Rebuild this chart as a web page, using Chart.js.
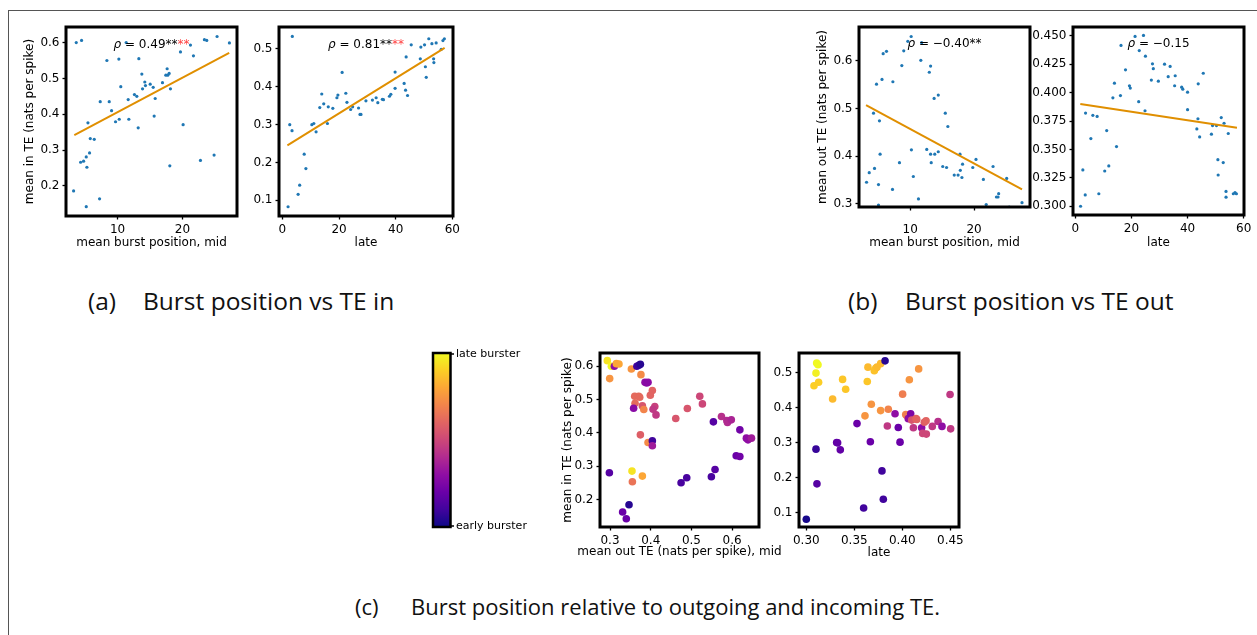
<!DOCTYPE html>
<html><head><meta charset="utf-8">
<script src="https://cdn.jsdelivr.net/npm/chart.js@4/dist/chart.umd.min.js"></script>
<style>
html,body{margin:0;padding:0;background:#fff;}
body{width:1257px;height:635px;position:relative;overflow:hidden;}
#frame{position:absolute;left:8px;top:10px;width:1300px;height:700px;border-top:1.5px solid #555;border-left:1.5px solid #555;}
canvas{position:absolute;}
.cap{position:absolute;font-family:"Open Sans","Noto Sans",sans-serif;color:#111;white-space:pre;}
.ab{font-size:24.5px;line-height:25px;}
.c{font-size:22px;line-height:23px;}
</style></head><body>
<div id="frame"></div>
<div class="cap ab" style="left:88px;top:288px">(a)</div>
<div class="cap ab" style="left:143px;top:288px">Burst position vs TE in</div>
<div class="cap ab" style="left:848px;top:288px">(b)</div>
<div class="cap ab" style="left:905px;top:288px">Burst position vs TE out</div>
<div class="cap c" style="left:355px;top:595px">(c)</div>
<div class="cap c" style="left:411px;top:595px">Burst position relative to outgoing and incoming TE.</div>
<script>
// ---------- DATA ----------
// (a) burst position vs incoming TE
const midPosIn  = [3.64,4.46,3.23,5.18,7.23,4.31,4.77,5.18,5.28,5.69,5.44,5.8,6.41,7.33,8.36,8.72,9.08,9.69,10.26,10.2,10.5,11.33,11.64,11.74,12.6,12.97,13.18,13.28,13.74,13.85,14.2,14.3,15.03,15.49,15.8,15.64,16.92,17.44,17.64,17.74,17.95,18.15,18.05,19.69,20.1,21.23,21.69,22.77,23.38,23.74,24.87,25.33,27.23];
const midTEin   = [0.600,0.606,0.186,0.142,0.164,0.266,0.269,0.281,0.252,0.292,0.376,0.332,0.330,0.435,0.550,0.435,0.410,0.379,0.386,0.554,0.477,0.600,0.441,0.386,0.455,0.450,0.362,0.555,0.512,0.471,0.490,0.480,0.484,0.475,0.444,0.395,0.488,0.509,0.527,0.509,0.514,0.471,0.256,0.574,0.371,0.593,0.563,0.271,0.608,0.606,0.286,0.617,0.599];
const latePosIn = [2.0,2.6,3.4,3.5,5.55,6.1,7.7,8.3,10.4,11.1,11.9,13.2,13.9,14.6,15.9,16.2,17.8,19.25,19.6,21.1,22.4,22.8,24.1,24.8,26.9,27.4,27.75,29.5,31.8,33.1,33.7,35.3,35.7,37.8,38.3,39.8,39.8,43.0,43.5,43.7,44.2,45.5,48.7,48.9,50.2,50.5,50.8,51.7,52.8,53.4,53.5,54.3,56.1,56.7,57.2];
const lateTEin  = [0.083,0.300,0.284,0.533,0.116,0.140,0.222,0.184,0.300,0.303,0.281,0.345,0.381,0.355,0.303,0.347,0.343,0.371,0.378,0.438,0.383,0.359,0.340,0.347,0.344,0.327,0.327,0.363,0.365,0.371,0.358,0.367,0.366,0.375,0.380,0.439,0.396,0.409,0.391,0.479,0.377,0.511,0.474,0.505,0.511,0.453,0.425,0.527,0.514,0.474,0.464,0.516,0.499,0.522,0.527];
// (b) burst position vs outgoing TE
const midPosOut  = [3.18,3.6,4.27,4.43,4.74,5.05,5.05,5.2,5.3,5.6,5.78,6.3,7.24,7.3,8.33,8.7,9.0,9.64,10.16,10.2,10.5,11.3,11.67,11.8,12.6,13.0,13.2,13.2,13.3,13.75,13.85,14.4,14.4,15.1,15.5,15.7,15.9,16.9,17.5,17.8,17.85,18.1,18.2,19.8,20.3,21.46,21.9,22.97,23.5,23.75,23.85,25.1,25.5,27.5];
const midTEout   = [0.345,0.365,0.490,0.374,0.551,0.340,0.297,0.474,0.404,0.561,0.615,0.620,0.330,0.556,0.386,0.590,0.621,0.641,0.651,0.413,0.357,0.310,0.601,0.638,0.414,0.576,0.589,0.404,0.386,0.521,0.404,0.528,0.409,0.378,0.490,0.376,0.462,0.360,0.360,0.404,0.370,0.355,0.383,0.376,0.393,0.351,0.298,0.378,0.314,0.314,0.321,0.353,0.293,0.302];
const latePosOut = [1.9,2.7,3.55,3.67,5.56,6.27,7.8,8.4,10.5,11.2,11.95,13.4,13.96,14.7,16.1,16.3,17.9,19.3,19.6,21.3,22.6,22.8,24.3,24.85,25.0,27.1,27.5,27.8,29.6,31.8,33.1,33.8,35.4,35.6,37.9,38.3,40.0,40.0,43.3,43.7,43.8,44.3,45.6,48.5,48.9,50.3,50.8,50.9,52.0,52.7,53.0,53.7,53.7,54.5,56.3,56.9,57.4];
const lateTEout  = [0.300,0.332,0.310,0.382,0.3595,0.380,0.379,0.311,0.331,0.3666,0.3355,0.3954,0.4083,0.3525,0.3974,0.4415,0.420,0.406,0.404,0.4494,0.392,0.437,0.4503,0.384,0.432,0.411,0.4253,0.421,0.410,0.425,0.414,0.423,0.406,0.4148,0.4048,0.403,0.4004,0.385,0.368,0.377,0.4077,0.361,0.417,0.3634,0.371,0.371,0.341,0.3275,0.378,0.3384,0.373,0.313,0.308,0.364,0.311,0.312,0.311];
// regression lines (end points)
const fitMidInX  = [3.34, 27.2],  fitMidInY  = [0.342, 0.571];
const fitLateInX = [1.77, 57.3],  fitLateInY = [0.245, 0.503];
const fitMidOutX = [3.1, 27.5],   fitMidOutY = [0.507, 0.330];
const fitLateOutX= [1.8, 57.6],   fitLateOutY= [0.390, 0.369];
// (c) out TE vs in TE, coloured by burst position (0 = early, 1 = late)
const cMidOut = [0.2934,0.3033,0.3107,0.3156,0.322,0.2992,0.3525,0.366,0.371,0.3746,0.376,0.386,0.3934,0.39,0.404,0.399,0.3607,0.3705,0.373,0.3615,0.358,0.3795,0.383,0.41,0.4057,0.413,0.49,0.4615,0.5205,0.527,0.554,0.5738,0.587,0.5885,0.598,0.619,0.635,0.639,0.6475,0.3746,0.3934,0.404,0.404,0.61,0.619,0.2984,0.354,0.3795,0.355,0.558,0.549,0.4885,0.4746,0.3467,0.331,0.34];
const cMidIn  = [0.617,0.600,0.600,0.608,0.607,0.563,0.592,0.600,0.603,0.606,0.575,0.552,0.552,0.550,0.527,0.513,0.510,0.510,0.507,0.489,0.474,0.481,0.470,0.479,0.471,0.454,0.473,0.443,0.510,0.487,0.433,0.449,0.437,0.431,0.439,0.409,0.384,0.379,0.384,0.394,0.371,0.376,0.361,0.331,0.329,0.280,0.285,0.270,0.253,0.290,0.268,0.265,0.250,0.184,0.162,0.142];
const cMidPos = [0.95,1.0,0.3,0.8,0.8,0.75,0.75,0.1,0.08,0.05,0.72,0.3,0.3,0.28,0.6,0.6,0.62,0.62,0.62,0.62,0.28,0.55,0.7,0.48,0.45,0.45,0.55,0.55,0.5,0.5,0.15,0.42,0.4,0.4,0.38,0.22,0.3,0.3,0.35,0.58,0.72,0.1,0.35,0.2,0.22,0.15,0.95,0.8,0.65,0.15,0.12,0.12,0.12,0.05,0.2,0.2];
const cLateOut = [0.300,0.3101,0.3111,0.308,0.3101,0.3108,0.3122,0.3128,0.3274,0.3378,0.341,0.3316,0.3326,0.3354,0.3528,0.3597,0.3611,0.3635,0.3642,0.3667,0.3677,0.3708,0.3722,0.3736,0.3774,0.3774,0.3788,0.3802,0.382,0.3844,0.3854,0.3924,0.3958,0.3976,0.4003,0.4035,0.4045,0.4062,0.4073,0.4087,0.4097,0.4115,0.4142,0.415,0.417,0.4201,0.4212,0.4229,0.4247,0.425,0.4312,0.4372,0.4413,0.4497,0.4503];
const cLateIn  = [0.082,0.282,0.183,0.463,0.499,0.528,0.523,0.473,0.425,0.481,0.453,0.301,0.300,0.280,0.355,0.114,0.377,0.475,0.516,0.303,0.410,0.506,0.513,0.516,0.526,0.392,0.220,0.139,0.534,0.348,0.396,0.383,0.344,0.302,0.439,0.381,0.378,0.369,0.480,0.383,0.365,0.343,0.369,0.367,0.511,0.343,0.327,0.359,0.363,0.325,0.347,0.361,0.347,0.438,0.340];
const cLatePos = [0.02,0.08,0.15,0.9,0.98,1.0,1.0,0.9,0.85,0.88,0.88,0.18,0.18,0.18,0.2,0.1,0.75,0.88,0.85,0.2,0.75,0.87,0.87,0.85,0.85,0.75,0.1,0.1,0.05,0.45,0.7,0.3,0.2,0.2,0.68,0.7,0.68,0.3,0.75,0.25,0.55,0.45,0.6,0.6,0.75,0.3,0.5,0.58,0.6,0.5,0.45,0.42,0.3,0.45,0.45];
// tick values and labels
const ticksPosMid = [10,20],            labelsPosMid = ['10','20'];
const ticksPosLate = [0,20,40,60],      labelsPosLate = ['0','20','40','60'];
const ticksInMid = [0.2,0.3,0.4,0.5,0.6], labelsInMid = ['0.2','0.3','0.4','0.5','0.6'];
const ticksInLate = [0.1,0.2,0.3,0.4,0.5], labelsInLate = ['0.1','0.2','0.3','0.4','0.5'];
const ticksOutMid = [0.3,0.4,0.5,0.6],  labelsOutMid = ['0.3','0.4','0.5','0.6'];
const ticksOutLate = [0.3,0.325,0.35,0.375,0.4,0.425,0.45], labelsOutLate = ['0.300','0.325','0.350','0.375','0.400','0.425','0.450'];
const ticksCOutMid = [0.3,0.4,0.5,0.6], labelsCOutMid = ['0.3','0.4','0.5','0.6'];
const ticksCOutLate = [0.30,0.35,0.40,0.45], labelsCOutLate = ['0.30','0.35','0.40','0.45'];

// ---------- HELPERS ----------
const PLASMA = [[13,8,135],[65,4,157],[106,0,168],[143,13,164],[177,42,144],[204,71,120],[225,100,98],[242,132,75],[252,166,54],[252,206,37],[240,249,33]];
function plasma(t){
  t = Math.max(0, Math.min(1, t));
  const s = t*10, i = Math.min(9, Math.floor(s)), f = s - i;
  const a = PLASMA[i], b = PLASMA[i+1];
  return 'rgb(' + [0,1,2].map(k => Math.round(a[k] + (b[k]-a[k])*f)).join(',') + ')';
}
const FONT = '"DejaVu Sans", sans-serif';
const BLUE = '#1f77b4', ORANGE = '#e08f00';
const pts = (xs, ys) => xs.map((x,i) => ({x:x, y:ys[i]}));

const boxPlugin = { id:'box', afterDatasetsDraw(chart){
  const {ctx, chartArea:a} = chart; ctx.save();
  ctx.lineWidth = 3; ctx.strokeStyle = '#000';
  ctx.strokeRect(a.left, a.top, a.right-a.left, a.bottom-a.top); ctx.restore();
}};
const rhoPlugin = { id:'rho', afterDatasetsDraw(chart, args, opts){
  if (!opts || !opts.parts || !opts.parts.length) return;
  const {ctx, chartArea:a} = chart; ctx.save(); ctx.textBaseline = 'middle'; ctx.textAlign = 'left';
  const fonts = opts.parts.map(p => (p.italic ? 'italic ' : '') + '12px ' + FONT);
  const ws = opts.parts.map((p,i) => { ctx.font = fonts[i]; return ctx.measureText(p.t).width; });
  let x = (a.left + a.right)/2 - ws.reduce((s,w)=>s+w,0)/2;
  const y = a.top + (a.bottom - a.top)*0.092;
  opts.parts.forEach((p,i) => { ctx.font = fonts[i]; ctx.fillStyle = p.color || '#000'; ctx.fillText(p.t, x, y); x += ws[i]; });
  ctx.restore();
}};
const xTitlePlugin = { id:'xtitle', afterDraw(chart, args, opts){
  if (!opts || !opts.text) return;
  const {ctx, chartArea:a} = chart; ctx.save();
  ctx.font = '12px ' + FONT; ctx.fillStyle = '#000'; ctx.textAlign = 'center'; ctx.textBaseline = 'middle';
  ctx.fillText(opts.text, (a.left+a.right)/2, a.bottom + opts.offset); ctx.restore();
}};
const cbarPlugin = { id:'cbar', afterDraw(chart, args, opts){
  if (!opts || !opts.labels) return;
  const {ctx, chartArea:a} = chart; ctx.save();
  const l = a.left + opts.dx1, r = a.left + opts.dx2, t = a.top, b = a.bottom;
  const g = ctx.createLinearGradient(0, t, 0, b);
  for (let k = 0; k <= 20; k++) g.addColorStop(k/20, plasma(1 - k/20));
  ctx.fillStyle = g; ctx.fillRect(l, t, r-l, b-t);
  ctx.lineWidth = 2.5; ctx.strokeStyle = '#000'; ctx.strokeRect(l, t, r-l, b-t);
  ctx.lineWidth = 1.3; ctx.beginPath();
  ctx.moveTo(r, t+1); ctx.lineTo(r+3.5, t+1); ctx.moveTo(r, b-1); ctx.lineTo(r+3.5, b-1); ctx.stroke();
  ctx.font = '11px ' + FONT; ctx.fillStyle = '#000'; ctx.textBaseline = 'middle'; ctx.textAlign = 'left';
  ctx.fillText(opts.labels[0], r + 5.5, t + 1);
  ctx.fillText(opts.labels[1], r + 5.5, b - 1);
  ctx.restore();
}};

function axis(ax, size, isX){
  const o = {
    type:'linear', min:ax.min, max:ax.max,
    afterBuildTicks: s => { s.ticks = ax.ticks.map(v => ({value:v})); },
    ticks:{ autoSkip:false, maxRotation:0, padding: ax.pad || 3, color:'#000', font:{family:FONT, size:12},
            callback:(v,i) => ax.labels[i] },
    grid:{ display:true, drawOnChartArea:false, drawTicks:true, tickLength:3.5, tickColor:'#000', tickWidth:1.3, color:'rgba(0,0,0,0)' },
    border:{ display:false },
    title:{ display: !!ax.title, text: ax.title || '', color:'#000', font:{family:FONT, size:12}, padding:0 }
  };
  if (isX) o.afterFit = s => { s.height = size; }; else o.afterFit = s => { s.width = size; };
  return o;
}

function panel(cfg){
  const b = cfg.box;
  const padL = cfg.padL || 0, padR = cfg.padR || 14, padT = 12, padB = 0;
  const left = b.l - cfg.yW - padL, top = b.t - padT;
  const width = padL + cfg.yW + (b.r - b.l) + padR;
  const height = padT + (b.b - b.t) + cfg.xH + padB;
  const cv = document.createElement('canvas');
  cv.width = width; cv.height = height;
  cv.style.left = left + 'px'; cv.style.top = top + 'px';
  cv.style.width = width + 'px'; cv.style.height = height + 'px';
  document.body.appendChild(cv);
  new Chart(cv, {
    type:'scatter',
    data:{ datasets: cfg.datasets },
    options:{
      responsive:false, animation:false, devicePixelRatio:1, events:[],
      layout:{ padding:{ left:padL, right:padR, top:padT, bottom:padB } },
      plugins:{ legend:{display:false}, tooltip:{enabled:false},
        rho: { parts: cfg.rho || [] }, xtitle: cfg.xtitle || {}, cbar: cfg.cbar || {} },
      scales:{ x: axis(cfg.x, cfg.xH, true), y: axis(cfg.y, cfg.yW, false) }
    },
    plugins:[boxPlugin, rhoPlugin, xTitlePlugin, cbarPlugin]
  });
}
function dots(xs, ys){ return { type:'scatter', data:pts(xs, ys), pointRadius:1.6, pointBackgroundColor:BLUE, pointBorderWidth:0, order:2 }; }
function fit(xs, ys){ return { type:'line', data:pts(xs, ys), borderColor:ORANGE, borderWidth:2, pointRadius:0, showLine:true, fill:false, order:1 }; }
function colored(xs, ys, cs){ return { type:'scatter', data:pts(xs, ys), pointRadius:3.8, pointBackgroundColor:cs.map(plasma), pointBorderWidth:0, order:1 }; }

// (a) left: mid
panel({ box:{l:66,r:237,t:27,b:216}, yW:43, xH:34,
  x:{min:2.06,max:28.4,ticks:ticksPosMid,labels:labelsPosMid,title:'mean burst position, mid'},
  y:{min:0.116,max:0.6435,ticks:ticksInMid,labels:labelsInMid,title:'mean in TE (nats per spike)'},
  datasets:[fit(fitMidInX,fitMidInY), dots(midPosIn,midTEin)],
  rho:[{t:'ρ',italic:true},{t:' = 0.49**'},{t:'**',color:'#ff4040'}] });
// (a) right: late
panel({ box:{l:279,r:453,t:27,b:216}, yW:40, xH:34,
  x:{min:-1.2,max:60.25,ticks:ticksPosLate,labels:labelsPosLate,title:'late'},
  y:{min:0.0586,max:0.558,ticks:ticksInLate,labels:labelsInLate},
  datasets:[fit(fitLateInX,fitLateInY), dots(latePosIn,lateTEin)],
  rho:[{t:'ρ',italic:true},{t:' = 0.81**'},{t:'**',color:'#ff4040'}] });
// (b) left: mid
panel({ box:{l:859,r:1030,t:27,b:207}, yW:43, xH:43,
  x:{min:2.0,max:28.75,ticks:ticksPosMid,labels:labelsPosMid,title:'mean burst position, mid',pad:12},
  y:{min:0.293,max:0.671,ticks:ticksOutMid,labels:labelsOutMid,title:'mean out TE (nats per spike)'},
  datasets:[fit(fitMidOutX,fitMidOutY), dots(midPosOut,midTEout)],
  rho:[{t:'ρ',italic:true},{t:' = −0.40**'}] });
// (b) right: late
panel({ box:{l:1073,r:1244,t:27,b:215}, yW:45, xH:35, padR:12,
  x:{min:-0.8,max:60.1,ticks:ticksPosLate,labels:labelsPosLate,title:'late'},
  y:{min:0.2923,max:0.4577,ticks:ticksOutLate,labels:labelsOutLate},
  datasets:[fit(fitLateOutX,fitLateOutY), dots(latePosOut,lateTEout)],
  rho:[{t:'ρ',italic:true},{t:' = −0.15'}] });
// (c) left: mid, with colour bar
panel({ box:{l:600,r:759,t:353,b:527}, yW:39, xH:33, padL:135, padR:22,
  x:{min:0.2754,max:0.666,ticks:ticksCOutMid,labels:labelsCOutMid},
  y:{min:0.117,max:0.640,ticks:ticksInMid,labels:labelsInMid,title:'mean in TE (nats per spike)'},
  datasets:[colored(cMidOut,cMidIn,cMidPos)],
  xtitle:{text:'mean out TE (nats per spike), mid', offset:25.3},
  cbar:{dx1:-167, dx2:-149.5, labels:['late burster','early burster']} });
// (c) right: late
panel({ box:{l:799,r:959,t:353,b:527}, yW:40, xH:33,
  x:{min:0.2924,max:0.459,ticks:ticksCOutLate,labels:labelsCOutLate,title:'late'},
  y:{min:0.0599,max:0.5564,ticks:ticksInLate,labels:labelsInLate},
  datasets:[colored(cLateOut,cLateIn,cLatePos)] });
</script>
</body></html>
